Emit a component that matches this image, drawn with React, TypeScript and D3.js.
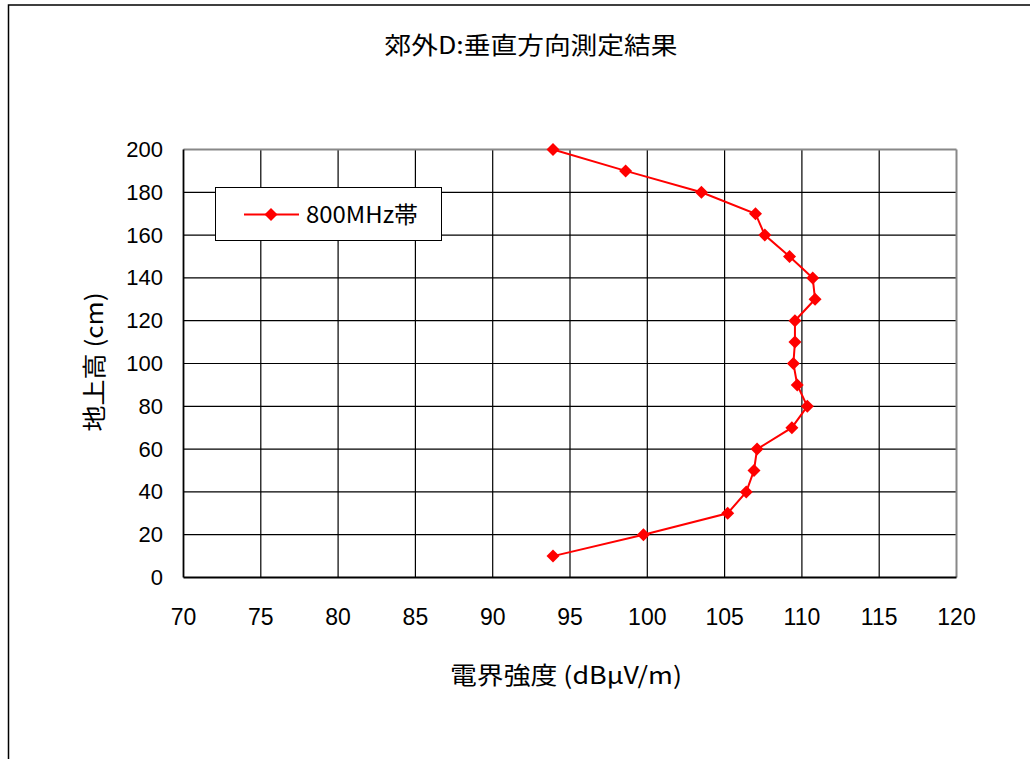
import React from "react";
import * as d3 from "d3";

const heights = [10, 20, 30, 40, 50, 60, 70, 80, 90, 100, 110, 120, 130, 140, 150, 160, 170, 180, 190, 200];
const field800 = [93.9, 99.75, 105.2, 106.4, 106.9, 107.1, 109.35, 110.35, 109.7, 109.45, 109.55, 109.55, 110.85, 110.7, 109.2, 107.6, 107.0, 103.5, 98.6, 93.9];
const xTicks = [70, 75, 80, 85, 90, 95, 100, 105, 110, 115, 120];
const yTicks = [0, 20, 40, 60, 80, 100, 120, 140, 160, 180, 200];
const title = "郊外D:垂直方向測定結果";
const xTitle = "電界強度 (dBμV/m)";
const yTitle = "地上高 (cm)";
const seriesName = "800MHz帯";

const W = 1030, H = 759;
const L = 183.5, R = 956.5, T = 149.5, B = 577.5;

export default function App() {
  const x = d3.scaleLinear().domain([70, 120]).range([L, R]);
  const y = d3.scaleLinear().domain([0, 200]).range([B, T]);
  const pts = heights.map((h, i) => [x(field800[i]), y(h)] as [number, number]);
  const line = d3.line()(pts) || "";
  const diamond = (cx: number, cy: number, r: number) =>
    `M${cx},${cy - r}L${cx + r},${cy}L${cx},${cy + r}L${cx - r},${cy}Z`;
  const font = "'Liberation Sans', Arial, 'Noto Sans CJK JP', sans-serif";
  const cjk = "'Noto Sans CJK JP', 'Liberation Sans', sans-serif";
  return (
    <svg width={W} height={H} style={{ position: "absolute", left: 0, top: 0, display: "block" }}>
      <rect x={0} y={0} width={W} height={H} fill="#fff" />
      <rect x={8.5} y={5} width={1030} height={800} fill="none" stroke="#000" strokeWidth={1.5} />
      <text x={531} y={54} textAnchor="middle" fontFamily={cjk} fontSize={24} textLength={293} lengthAdjust="spacingAndGlyphs" fill="#000">{title}</text>
      {/* grid */}
      {yTicks.filter(t => t > 0 && t < 200).map(t => (
        <line key={"gy" + t} x1={L} x2={R} y1={y(t)} y2={y(t)} stroke="#000" strokeWidth={1.2} />
      ))}
      {xTicks.filter(t => t > 70 && t < 120).map(t => (
        <line key={"gx" + t} x1={x(t)} x2={x(t)} y1={T} y2={B} stroke="#000" strokeWidth={1.2} />
      ))}
      {/* plot border */}
      <line x1={L} x2={R} y1={T} y2={T} stroke="#888" strokeWidth={2} />
      <line x1={R} x2={R} y1={T} y2={B} stroke="#888" strokeWidth={2} />
      <line x1={L} x2={L} y1={T} y2={B} stroke="#000" strokeWidth={1.8} />
      <line x1={L} x2={R} y1={B} y2={B} stroke="#000" strokeWidth={1.8} />
      {/* tick labels */}
      {yTicks.map(t => (
        <text key={"ty" + t} x={163} y={y(t) + 7.5} textAnchor="end" fontFamily={font} fontSize={22} fill="#000">{t}</text>
      ))}
      {xTicks.map(t => (
        <text key={"tx" + t} x={x(t)} y={625} textAnchor="middle" fontFamily={font} fontSize={23} fill="#000">{t}</text>
      ))}
      <text x={566} y={684} textAnchor="middle" fontFamily={cjk} fontSize={24} textLength={232} lengthAdjust="spacingAndGlyphs" fill="#000">{xTitle}</text>
      <text transform="translate(103,362) rotate(-90)" textAnchor="middle" fontFamily={cjk} fontSize={24} textLength={139} lengthAdjust="spacingAndGlyphs" fill="#000">{yTitle}</text>
      {/* series */}
      <path d={line} fill="none" stroke="#ff0000" strokeWidth={2} />
      {pts.map((p, i) => (
        <path key={"m" + i} d={diamond(p[0], p[1], 6.5)} fill="#ff0000" />
      ))}
      {/* legend */}
      <rect x={215.5} y={187.5} width={226} height={53} fill="#fff" stroke="#000" strokeWidth={1} />
      <line x1={244} x2={299} y1={214.5} y2={214.5} stroke="#ff0000" strokeWidth={2} />
      <path d={diamond(271, 214.5, 6.5)} fill="#ff0000" />
      <text x={306} y={222.5} fontFamily={cjk} fontSize={23} textLength={112} lengthAdjust="spacingAndGlyphs" fill="#000">{seriesName}</text>
    </svg>
  );
}
